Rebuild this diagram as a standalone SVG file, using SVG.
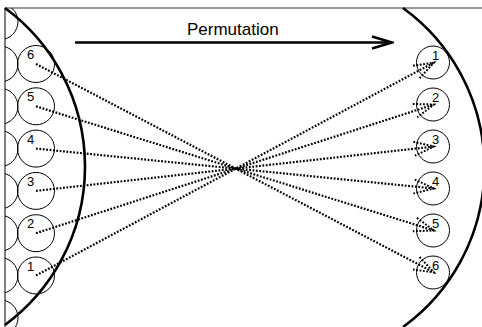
<svg xmlns="http://www.w3.org/2000/svg" width="482" height="327" viewBox="0 0 482 327">
<style>
.frame{fill:none;stroke:#000;stroke-width:1}
.top{fill:none;stroke:#999;stroke-width:2}
.big{fill:none;stroke:#000;stroke-width:2.6}
.c{fill:none;stroke:#000;stroke-width:1}
.lbl{font-family:"Liberation Sans",Arial,sans-serif;font-size:13px;fill:#000}
.title{font-family:"Liberation Sans",Arial,sans-serif;font-size:17px;fill:#000}
.dot{fill:none;stroke:#000;stroke-width:2.2;stroke-dasharray:1.8 1.6}
.arrow{fill:none;stroke:#000;stroke-width:2.5}
</style>
<defs>
<clipPath id="clipL"><rect x="5" y="8" width="40" height="319"/></clipPath>
<marker id="dah" viewBox="-22 -10 24 20" refX="0" refY="0" markerWidth="24" markerHeight="20" markerUnits="userSpaceOnUse" orient="auto">
<path d="M-20,-7 L0,0 L-20,7" fill="none" stroke="#000" stroke-width="2" stroke-dasharray="1.8 1.6"/>
</marker>
<marker id="ah" viewBox="-22 -8 24 16" refX="0" refY="0" markerWidth="24" markerHeight="16" markerUnits="userSpaceOnUse" orient="auto">
<path d="M-20,-6 L0,0 L-20,6" fill="none" stroke="#000" stroke-width="2.5"/>
</marker>
</defs>

<g id="frame">
<line class="top" x1="5" y1="8" x2="482" y2="8"/>
<line class="frame" x1="5" y1="8" x2="5" y2="327"/>
</g>

<g id="left-set">
<path class="big" d="M5,8 A197,197 0 0 1 5,325"/>
<g clip-path="url(#clipL)">
<circle class="c" cx="0" cy="21.7" r="18"/>
<circle class="c" cx="0" cy="64" r="18"/>
<circle class="c" cx="0" cy="106.3" r="18"/>
<circle class="c" cx="0" cy="148.6" r="18"/>
<circle class="c" cx="0" cy="190.9" r="18"/>
<circle class="c" cx="0" cy="233.2" r="18"/>
<circle class="c" cx="0" cy="275.5" r="18"/>
<circle class="c" cx="0" cy="317.8" r="18"/>
</g>
</g>

<g id="right-set">
<path class="big" d="M403,8 A197,197 0 0 1 403,327"/>
</g>

<g id="L6"><circle class="c" cx="36" cy="64" r="18.5"/><text class="lbl" x="27" y="59">6</text></g>
<g id="L5"><circle class="c" cx="36" cy="106.3" r="18.5"/><text class="lbl" x="27" y="101.3">5</text></g>
<g id="L4"><circle class="c" cx="36" cy="148.6" r="18.5"/><text class="lbl" x="27" y="143.6">4</text></g>
<g id="L3"><circle class="c" cx="36" cy="190.9" r="18.5"/><text class="lbl" x="27" y="185.9">3</text></g>
<g id="L2"><circle class="c" cx="36" cy="233.2" r="18.5"/><text class="lbl" x="27" y="228.2">2</text></g>
<g id="L1"><circle class="c" cx="36" cy="275.5" r="18.5"/><text class="lbl" x="27" y="270.5">1</text></g>

<g id="R1"><circle class="c" cx="433" cy="62.5" r="16.5"/><text class="lbl" x="432" y="60">1</text></g>
<g id="R2"><circle class="c" cx="433" cy="104.5" r="16.5"/><text class="lbl" x="432" y="102">2</text></g>
<g id="R3"><circle class="c" cx="433" cy="146.5" r="16.5"/><text class="lbl" x="432" y="144">3</text></g>
<g id="R4"><circle class="c" cx="433" cy="188.5" r="16.5"/><text class="lbl" x="432" y="186">4</text></g>
<g id="R5"><circle class="c" cx="433" cy="230.5" r="16.5"/><text class="lbl" x="432" y="228">5</text></g>
<g id="R6"><circle class="c" cx="433" cy="272.5" r="16.5"/><text class="lbl" x="432" y="270">6</text></g>

<g id="title">
<text class="title" x="187" y="35">Permutation</text>
</g>

<g id="connectors">
<line class="arrow" x1="75" y1="42.5" x2="392" y2="42.5" marker-end="url(#ah)"/>
<line class="dot" x1="36" y1="64" x2="434" y2="272.5" marker-end="url(#dah)"/>
<line class="dot" x1="36" y1="106.3" x2="434" y2="230.5" marker-end="url(#dah)"/>
<line class="dot" x1="36" y1="148.6" x2="434" y2="188.5" marker-end="url(#dah)"/>
<line class="dot" x1="36" y1="190.9" x2="434" y2="146.5" marker-end="url(#dah)"/>
<line class="dot" x1="36" y1="233.2" x2="434" y2="104.5" marker-end="url(#dah)"/>
<line class="dot" x1="36" y1="275.5" x2="434" y2="62.5" marker-end="url(#dah)"/>
</g>
</svg>
